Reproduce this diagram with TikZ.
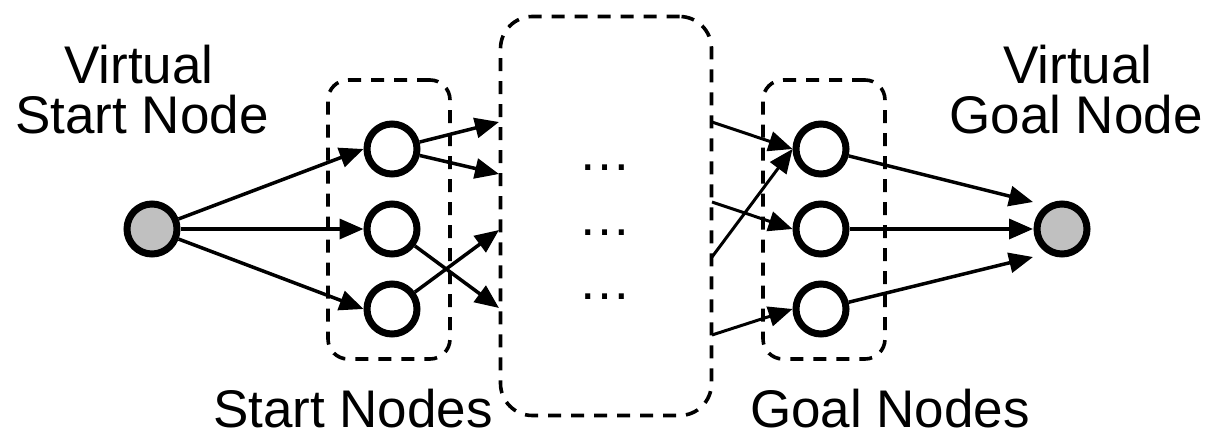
\documentclass[tikz,border=0pt]{standalone}
\usepackage{fontspec}
\setmainfont{Liberation Sans}
\usetikzlibrary{arrows.meta}
\definecolor{vgray}{RGB}{192,192,192}
\begin{document}
\begin{tikzpicture}[x=1pt,y=-1pt,
  vnode/.style={circle,draw=black,line width=7pt,fill=vgray,minimum size=50pt,inner sep=0pt},
  snode/.style={circle,draw=black,line width=7pt,fill=white,minimum size=50pt,inner sep=0pt},
  grp/.style={draw=black,line width=3.6pt,dash pattern=on 13pt off 10pt,inner sep=0pt},
  edge/.style={line width=3.5pt,-{Triangle[length=24pt,width=20pt]}},
  link/.style={line width=3pt,-{Triangle[length=24pt,width=20pt]}},
  lbl/.style={font=\fontsize{53}{60}\selectfont,anchor=base,inner sep=0pt}
]
\useasboundingbox (0,0) rectangle (1214,444);

% group boxes
\node[grp,rounded corners=20pt,minimum width=122pt,minimum height=279pt] (sbox) at (389,219.5) {};
\node[grp,rounded corners=20pt,minimum width=122pt,minimum height=279pt] (gbox) at (824,219.5) {};
\node[grp,rounded corners=32pt,minimum width=211pt,minimum height=399pt] (mbox) at (606,216) {};

% nodes
\node[vnode] (vs) at (152,229) {};
\node[snode] (s1) at (392,149) {};
\node[snode] (s2) at (392,229) {};
\node[snode] (s3) at (392,309) {};
\node[snode] (g1) at (821,149) {};
\node[snode] (g2) at (821,229) {};
\node[snode] (g3) at (821,309) {};
\node[vnode] (vg) at (1062,229) {};

% dots
\node[lbl] (d1) at (605,170) {…};
\node[lbl] (d2) at (605,235) {…};
\node[lbl] (d3) at (605,299) {…};

% box border points
\coordinate (i1) at (499,122);
\coordinate (i2) at (499,174);
\coordinate (i3) at (499,230);
\coordinate (i4) at (499,308);
\coordinate (o1) at (712,122);
\coordinate (o2) at (712,202);
\coordinate (o3) at (712,257);
\coordinate (o4) at (712,335);
\coordinate (t1) at (1033,202);
\coordinate (t2) at (1033,229);
\coordinate (t3) at (1033,257);

% edges
\draw[edge] (vs) -- (s1.west);
\draw[edge] (vs) -- (s2.west);
\draw[edge] (vs) -- (s3.west);
\draw[edge] (s1) -- (i1);
\draw[edge] (s1) -- (i2);
\draw[edge] (s2) -- (i4);
\draw[edge] (s3) -- (i3);
\draw[link] (o1) -- (g1.west);
\draw[link] (o3) -- (g1.west);
\draw[link] (o2) -- (g2.west);
\draw[link] (o4) -- (g3.west);
\draw[edge] (g1) -- (t1);
\draw[edge] (g2) -- (t2);
\draw[edge] (g3) -- (t3);

% labels
\node[lbl] (vsl1) at (139,83) {Virtual};
\node[lbl] (vsl2) at (142,133) {Start Node};
\node[lbl] (vgl1) at (1078,83) {Virtual};
\node[lbl] (vgl2) at (1076,133) {Goal Node};
\node[lbl] (sl) at (353,427) {Start Nodes};
\node[lbl] (gl) at (890,427) {Goal Nodes};
\end{tikzpicture}
\end{document}
